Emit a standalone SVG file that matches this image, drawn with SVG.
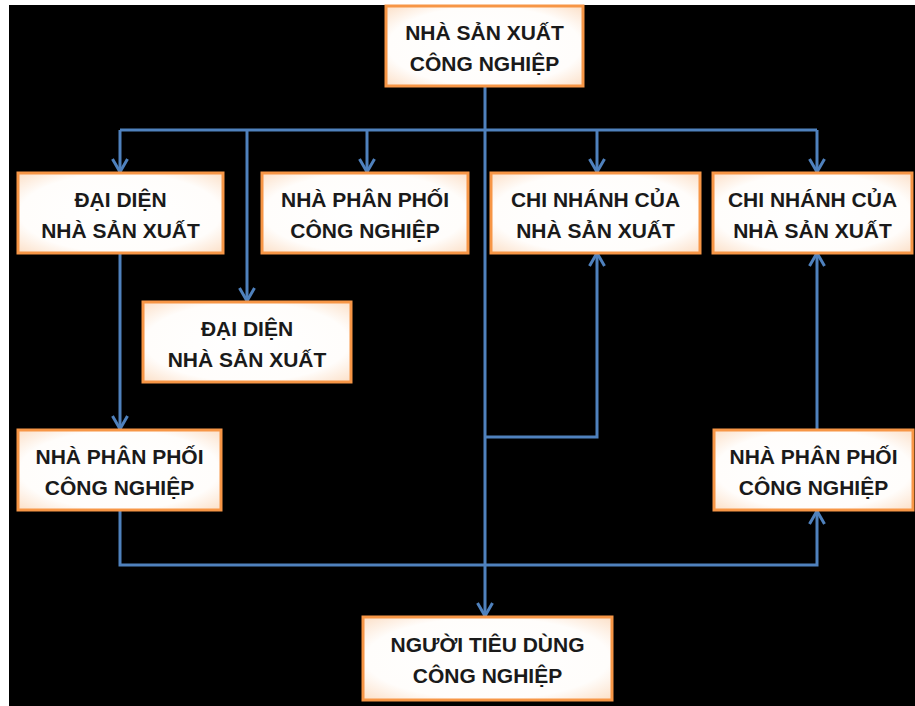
<svg xmlns="http://www.w3.org/2000/svg" width="915" height="706" viewBox="0 0 915 706">
  <defs>
    <radialGradient id="boxFill" cx="50%" cy="50%" r="70%">
      <stop offset="0%" stop-color="#ffffff"/>
      <stop offset="70%" stop-color="#fffdfb"/>
      <stop offset="100%" stop-color="#fce0c8"/>
    </radialGradient>
    <marker id="arr" viewBox="0 0 18 18" markerWidth="18" markerHeight="18" refX="14" refY="9" orient="auto" markerUnits="userSpaceOnUse">
      <path d="M1,1.5 L14,9 L1,16.5" fill="none" stroke="#4f81bd" stroke-width="3" stroke-linejoin="miter"/>
    </marker>
  </defs>
  <style>
    .box { fill: url(#boxFill); stroke: #f79646; stroke-width: 3; }
    .lbl { font-family: "Liberation Sans", Arial, sans-serif; font-weight: bold; font-size: 21px; fill: #1a1a1a; text-anchor: middle; }
    .con { fill: none; stroke: #4f81bd; stroke-width: 3; }
    .arrow { marker-end: url(#arr); }
  </style>
  <rect x="0" y="0" width="915" height="706" fill="#ffffff"/>
  <rect x="9" y="5" width="906" height="701" fill="#000000"/>

  <g id="connectors">
    <path class="con arrow" d="M485,86 L485,616"/>
    <path class="con" d="M120,130 L817,130"/>
    <path class="con arrow" d="M120,130 L120,172"/>
    <path class="con arrow" d="M367,130 L367,172"/>
    <path class="con arrow" d="M597,130 L597,172"/>
    <path class="con arrow" d="M817,130 L817,172"/>
    <path class="con arrow" d="M247,130 L247,301"/>
    <path class="con arrow" d="M120,253 L120,429"/>
    <path class="con arrow" d="M485,437 L597,437 L597,253"/>
    <path class="con arrow" d="M120,510 L120,565 L817,565 L817,511"/>
    <path class="con arrow" d="M817,430 L817,253"/>
  </g>

  <g id="node-top">
    <rect class="box" x="386" y="6" width="197" height="80"/>
    <text class="lbl" x="484.5" y="40">NHÀ SẢN XUẤT</text>
    <text class="lbl" x="484.5" y="71">CÔNG NGHIỆP</text>
  </g>
  <g id="node-dai-dien-1">
    <rect class="box" x="18" y="173" width="205" height="80"/>
    <text class="lbl" x="120.5" y="207">ĐẠI DIỆN</text>
    <text class="lbl" x="120.5" y="238">NHÀ SẢN XUẤT</text>
  </g>
  <g id="node-phan-phoi-1">
    <rect class="box" x="262" y="173" width="206" height="80"/>
    <text class="lbl" x="365" y="207">NHÀ PHÂN PHỐI</text>
    <text class="lbl" x="365" y="238">CÔNG NGHIỆP</text>
  </g>
  <g id="node-chi-nhanh-1">
    <rect class="box" x="491" y="173" width="209" height="80"/>
    <text class="lbl" x="595.5" y="207">CHI NHÁNH CỦA</text>
    <text class="lbl" x="595.5" y="238">NHÀ SẢN XUẤT</text>
  </g>
  <g id="node-chi-nhanh-2">
    <rect class="box" x="713" y="173" width="199" height="80"/>
    <text class="lbl" x="812.5" y="207">CHI NHÁNH CỦA</text>
    <text class="lbl" x="812.5" y="238">NHÀ SẢN XUẤT</text>
  </g>
  <g id="node-dai-dien-2">
    <rect class="box" x="143" y="302" width="208" height="80"/>
    <text class="lbl" x="247" y="336">ĐẠI DIỆN</text>
    <text class="lbl" x="247" y="367">NHÀ SẢN XUẤT</text>
  </g>
  <g id="node-phan-phoi-2">
    <rect class="box" x="18" y="430" width="203" height="80"/>
    <text class="lbl" x="119.5" y="464">NHÀ PHÂN PHỐI</text>
    <text class="lbl" x="119.5" y="495">CÔNG NGHIỆP</text>
  </g>
  <g id="node-phan-phoi-3">
    <rect class="box" x="714" y="430" width="199" height="80"/>
    <text class="lbl" x="813.5" y="464">NHÀ PHÂN PHỐI</text>
    <text class="lbl" x="813.5" y="495">CÔNG NGHIỆP</text>
  </g>
  <g id="node-nguoi-tieu-dung">
    <rect class="box" x="363" y="617" width="249" height="83"/>
    <text class="lbl" x="487.5" y="652">NGƯỜI TIÊU DÙNG</text>
    <text class="lbl" x="487.5" y="683">CÔNG NGHIỆP</text>
  </g>
</svg>
